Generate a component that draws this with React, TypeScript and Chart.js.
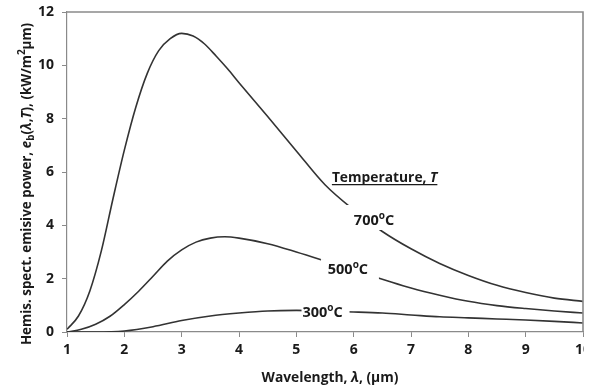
import React, { useEffect, useRef } from "react";
import { Chart, registerables } from "chart.js";

Chart.register(...registerables);

// ---- data ----
const wavelength700 = [1.0, 1.2, 1.4, 1.6, 1.8, 2.0, 2.2, 2.4, 2.6, 2.8, 3.0, 3.2, 3.4, 3.6, 3.8, 4.0, 4.5, 5.0, 5.5, 6.0, 6.5, 7.0, 7.5, 8.0, 8.5, 9.0, 9.5, 10.0];
const power700 = [0.1, 0.6, 1.55, 3.05, 4.98, 6.82, 8.43, 9.7, 10.55, 11.0, 11.2, 11.1, 10.8, 10.35, 9.87, 9.35, 8.08, 6.79, 5.52, 4.58, 3.77, 3.12, 2.57, 2.12, 1.75, 1.48, 1.27, 1.15];

const wavelength500 = [1.0, 1.25, 1.5, 1.75, 2.0, 2.25, 2.5, 2.75, 3.0, 3.25, 3.5, 3.75, 4.0, 4.5, 5.0, 5.5, 6.0, 6.5, 7.0, 7.5, 8.0, 8.5, 9.0, 9.5, 10.0];
const power500 = [0.0, 0.1, 0.29, 0.59, 1.03, 1.53, 2.09, 2.66, 3.08, 3.37, 3.52, 3.57, 3.52, 3.31, 3.0, 2.66, 2.31, 1.98, 1.65, 1.38, 1.15, 0.99, 0.88, 0.79, 0.71];

const wavelength300 = [1.0, 1.5, 2.0, 2.5, 3.0, 3.5, 4.0, 4.5, 5.0, 5.5, 6.0, 6.5, 7.0, 7.5, 8.0, 8.5, 9.0, 9.5, 10.0];
const power300 = [0.0, 0.0, 0.04, 0.2, 0.43, 0.6, 0.71, 0.79, 0.81, 0.78, 0.75, 0.71, 0.64, 0.57, 0.53, 0.49, 0.45, 0.4, 0.34];

const seriesNames = ["700", "500", "300"];
// label anchor positions in data units (wavelength, power)
const labelX = [6.355, 5.9, 5.457];
const labelY = [4.2, 2.36, 0.75];

const xMin = 1, xMax = 10, xStep = 1;
const yMin = 0, yMax = 12, yStep = 2;

const FONT = '"Open Sans", "DejaVu Sans", sans-serif';
const TEXT = "#1a1a1a";
const AXIS = "#8a8a8a";

type Seg = { t: string; i?: boolean; sub?: boolean; sup?: boolean };

function segFont(s: Seg, size: number) {
  const sz = s.sub || s.sup ? Math.round(size * 0.72) : size;
  return `${s.i ? "italic " : ""}bold ${sz}px ${FONT}`;
}

function drawRich(ctx: CanvasRenderingContext2D, segs: Seg[], cx: number, cy: number, size: number, underline = false) {
  let total = 0;
  const widths: number[] = [];
  for (const s of segs) {
    ctx.font = segFont(s, size);
    const w = ctx.measureText(s.t).width;
    widths.push(w);
    total += w;
  }
  let x = cx - total / 2;
  ctx.textBaseline = "alphabetic";
  ctx.textAlign = "left";
  ctx.fillStyle = TEXT;
  const base = cy + size * 0.36;
  segs.forEach((s, k) => {
    ctx.font = segFont(s, size);
    let y = base;
    if (s.sub) y += size * 0.22;
    if (s.sup) y -= size * 0.42;
    ctx.fillText(s.t, x, y);
    x += widths[k];
  });
  if (underline) {
    ctx.strokeStyle = TEXT;
    ctx.lineWidth = 1.3;
    ctx.beginPath();
    ctx.moveTo(cx - total / 2, base + 2.5);
    ctx.lineTo(cx + total / 2, base + 2.5);
    ctx.stroke();
  }
}

const yTitle: Seg[] = [
  { t: "Hemis. spect. emisive power, " },
  { t: "e", i: true },
  { t: "b", sub: true },
  { t: "(" },
  { t: "λ", i: true },
  { t: "," },
  { t: "T", i: true },
  { t: "), (kW/m" },
  { t: "2", sup: true },
  { t: "µm)" },
];
const xTitle: Seg[] = [{ t: "Wavelength, " }, { t: "λ", i: true }, { t: ", (µm)" }];
const tempTitle: Seg[] = [{ t: "Temperature, " }, { t: "T", i: true }];

// white boxes behind the curve labels (offsets from the label centre)
const boxes = [
  { l: -28, r: 24, t: -15, b: 10 },
  { l: -27, r: 31, t: -10, b: 10 },
  { l: -21, r: 27, t: -9, b: 8 },
];

const annotations = {
  id: "annotations",
  afterDatasetsDraw(chart: any) {
    const ctx = chart.ctx as CanvasRenderingContext2D;
    const xs = chart.scales.x, ys = chart.scales.y;
    ctx.save();
    seriesNames.forEach((name, k) => {
      const cx = xs.getPixelForValue(labelX[k]);
      const cy = ys.getPixelForValue(labelY[k]);
      const b = boxes[k];
      ctx.fillStyle = "#ffffff";
      ctx.fillRect(cx + b.l, cy + b.t, b.r - b.l, b.b - b.t);
      drawRich(ctx, [{ t: name }, { t: "o", sup: true }, { t: "C" }], cx, cy, 14.5);
    });
    drawRich(ctx, tempTitle, xs.getPixelForValue(6.54), ys.getPixelForValue(5.81), 13.8, true);
    ctx.restore();
  },
  afterDraw(chart: any) {
    const ctx = chart.ctx as CanvasRenderingContext2D;
    const a = chart.chartArea;
    ctx.save();
    ctx.strokeStyle = AXIS;
    ctx.lineWidth = 1.6;
    ctx.beginPath();
    ctx.moveTo(a.left, a.top);
    ctx.lineTo(a.right, a.top);
    ctx.lineTo(a.right, a.bottom);
    ctx.stroke();
    drawRich(ctx, xTitle, 330, 377, 13.8);
    ctx.translate(26, 184);
    ctx.rotate(-Math.PI / 2);
    drawRich(ctx, yTitle, 0, 0, 13.4);
    ctx.restore();
  },
};

function toPoints(xs: number[], ys: number[]) {
  return xs.map((x, i) => ({ x, y: ys[i] }));
}

export default function App() {
  const ref = useRef<HTMLCanvasElement>(null);
  useEffect(() => {
    document.body.style.margin = "0";
    const line = (data: any) => ({
      data,
      showLine: true,
      borderColor: "#333333",
      borderWidth: 1.6,
      pointRadius: 0,
      cubicInterpolationMode: "monotone" as const,
      fill: false,
    });
    const chart = new Chart(ref.current!, {
      type: "scatter",
      data: {
        datasets: [
          line(toPoints(wavelength700, power700)),
          line(toPoints(wavelength500, power500)),
          line(toPoints(wavelength300, power300)),
        ],
      },
      options: {
        animation: false,
        responsive: false,
        events: [],
        layout: { padding: { left: 0, right: 1, top: 12, bottom: 0 } },
        plugins: { legend: { display: false }, tooltip: { enabled: false } },
        scales: {
          x: {
            type: "linear",
            min: xMin,
            max: xMax,
            ticks: { stepSize: xStep, color: TEXT, font: { family: FONT, size: 14, weight: "bold" }, padding: 5, maxRotation: 0 },
            grid: { drawOnChartArea: false, drawTicks: true, tickLength: 5, color: AXIS },
            border: { color: AXIS, width: 1.2 },
            afterFit(scale: any) {
              scale.height = 58;
              scale.paddingLeft = 0;
              scale.paddingRight = 0;
            },
          },
          y: {
            type: "linear",
            min: yMin,
            max: yMax,
            ticks: { stepSize: yStep, color: TEXT, font: { family: FONT, size: 14, weight: "bold" }, padding: 8 },
            grid: { drawOnChartArea: false, drawTicks: true, tickLength: 5, color: AXIS },
            border: { color: AXIS, width: 1.2 },
            afterFit(scale: any) {
              scale.width = 67;
              scale.paddingTop = 0;
              scale.paddingBottom = 0;
            },
          },
        },
      },
      plugins: [annotations],
    });
    return () => chart.destroy();
  }, []);
  return (
    <div style={{ width: 600, height: 390, position: "relative", background: "#fff" }}>
      <canvas ref={ref} width={584} height={390} style={{ display: "block" }} />
    </div>
  );
}
